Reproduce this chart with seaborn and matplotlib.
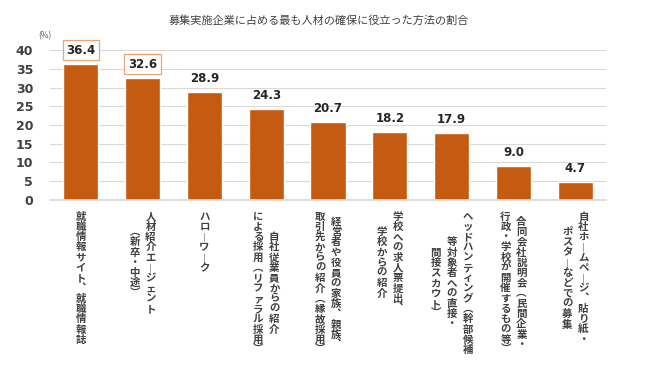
import matplotlib
matplotlib.use("Agg")
import matplotlib.pyplot as plt
import seaborn as sns
import pandas as pd

# chart data
labels = [
    ["就職情報サイト、就職情報誌"],
    ["人材紹介エージェント", "（新卒・中途）"],
    ["ハローワーク"],
    ["自社従業員からの紹介", "による採用（リファラル採用）"],
    ["経営者や役員の家族、親族、", "取引先からの紹介（縁故採用）"],
    ["学校への求人票提出、", "学校からの紹介"],
    ["ヘッドハンティング（幹部候補", "等対象者への直接・", "間接スカウト）"],
    ["合同会社説明会（民間企業・", "行政・学校が開催するもの等）"],
    ["自社ホームページ、貼り紙・", "ポスターなどでの募集"],
]
values = [36.4, 32.6, 28.9, 24.3, 20.7, 18.2, 17.9, 9.0, 4.7]
boxed = [0, 1]
title = "募集実施企業に占める最も人材の確保に役立った方法の割合"
y_ticks = [0, 5, 10, 15, 20, 25, 30, 35, 40]

sns.set_theme(style="white")
plt.rcParams["font.family"] = ["Noto Sans CJK JP", "DejaVu Sans"]

df = pd.DataFrame({"method": ["".join(l) for l in labels], "pct": values})

fig, ax = plt.subplots(figsize=(6.64, 3.8), dpi=100)
fig.subplots_adjust(left=0.075, right=0.913, bottom=0.474, top=0.868)

sns.barplot(data=df, x="method", y="pct", color="#C55A11", saturation=1,
            width=0.57, ax=ax)

ax.set_xlim(-0.5, len(values) - 0.5)
ax.set_ylim(0, 40)
ax.set_yticks(y_ticks)
ax.set_yticklabels([str(t) for t in y_ticks], fontsize=9, fontweight="bold",
                   color="#404040", family="DejaVu Sans")
ax.tick_params(axis="y", length=0, pad=12)
ax.set_xticks([])
ax.set_xlabel("")
ax.set_ylabel("")
ax.yaxis.grid(True, color="#D9D9D9", lw=0.8)
ax.set_axisbelow(True)
for s in ["left", "right", "top"]:
    ax.spines[s].set_visible(False)
ax.spines["bottom"].set_color("#D9D9D9")

# value labels
for i, v in enumerate(values):
    kw = {}
    if i in boxed:
        kw["bbox"] = dict(boxstyle="square,pad=0.3", fc="white", ec="#EBA57A", lw=0.9)
    ax.annotate(f"{v:.1f}", xy=(i, v), xytext=(0, 5), textcoords="offset points",
                ha="center", va="bottom", fontsize=8.5, fontweight="bold",
                color="#262626", family="DejaVu Sans", annotation_clip=False, **kw)

# vertical (tategaki) category labels
vert = {"ー": "︱", "（": "︵", "）": "︶", "、": "︑"}
fs = 7.5
step = 7.4
colsp = 11.5
top = 12
for i, lines in enumerate(labels):
    n = len(lines)
    maxlen = max(len(l) for l in lines)
    for j, line in enumerate(lines):
        dx = ((n - 1) / 2 - j) * colsp
        start = (maxlen - len(line)) / 2 * step
        for k, ch in enumerate(line):
            ax.annotate(vert.get(ch, ch), xy=(i, 0), xycoords=("data", "axes fraction"),
                        xytext=(dx, -(top + start + k * step)), textcoords="offset points",
                        ha="center", va="center", fontsize=fs, fontweight="bold",
                        color="#404040", annotation_clip=False)

fig.text(0.48, 0.945, title, ha="center", va="center", fontsize=8, color="#404040")
fig.text(0.068, 0.905, "(%)", ha="center", va="center", fontsize=6, color="#595959")

fig.savefig("out.png", dpi=100)
